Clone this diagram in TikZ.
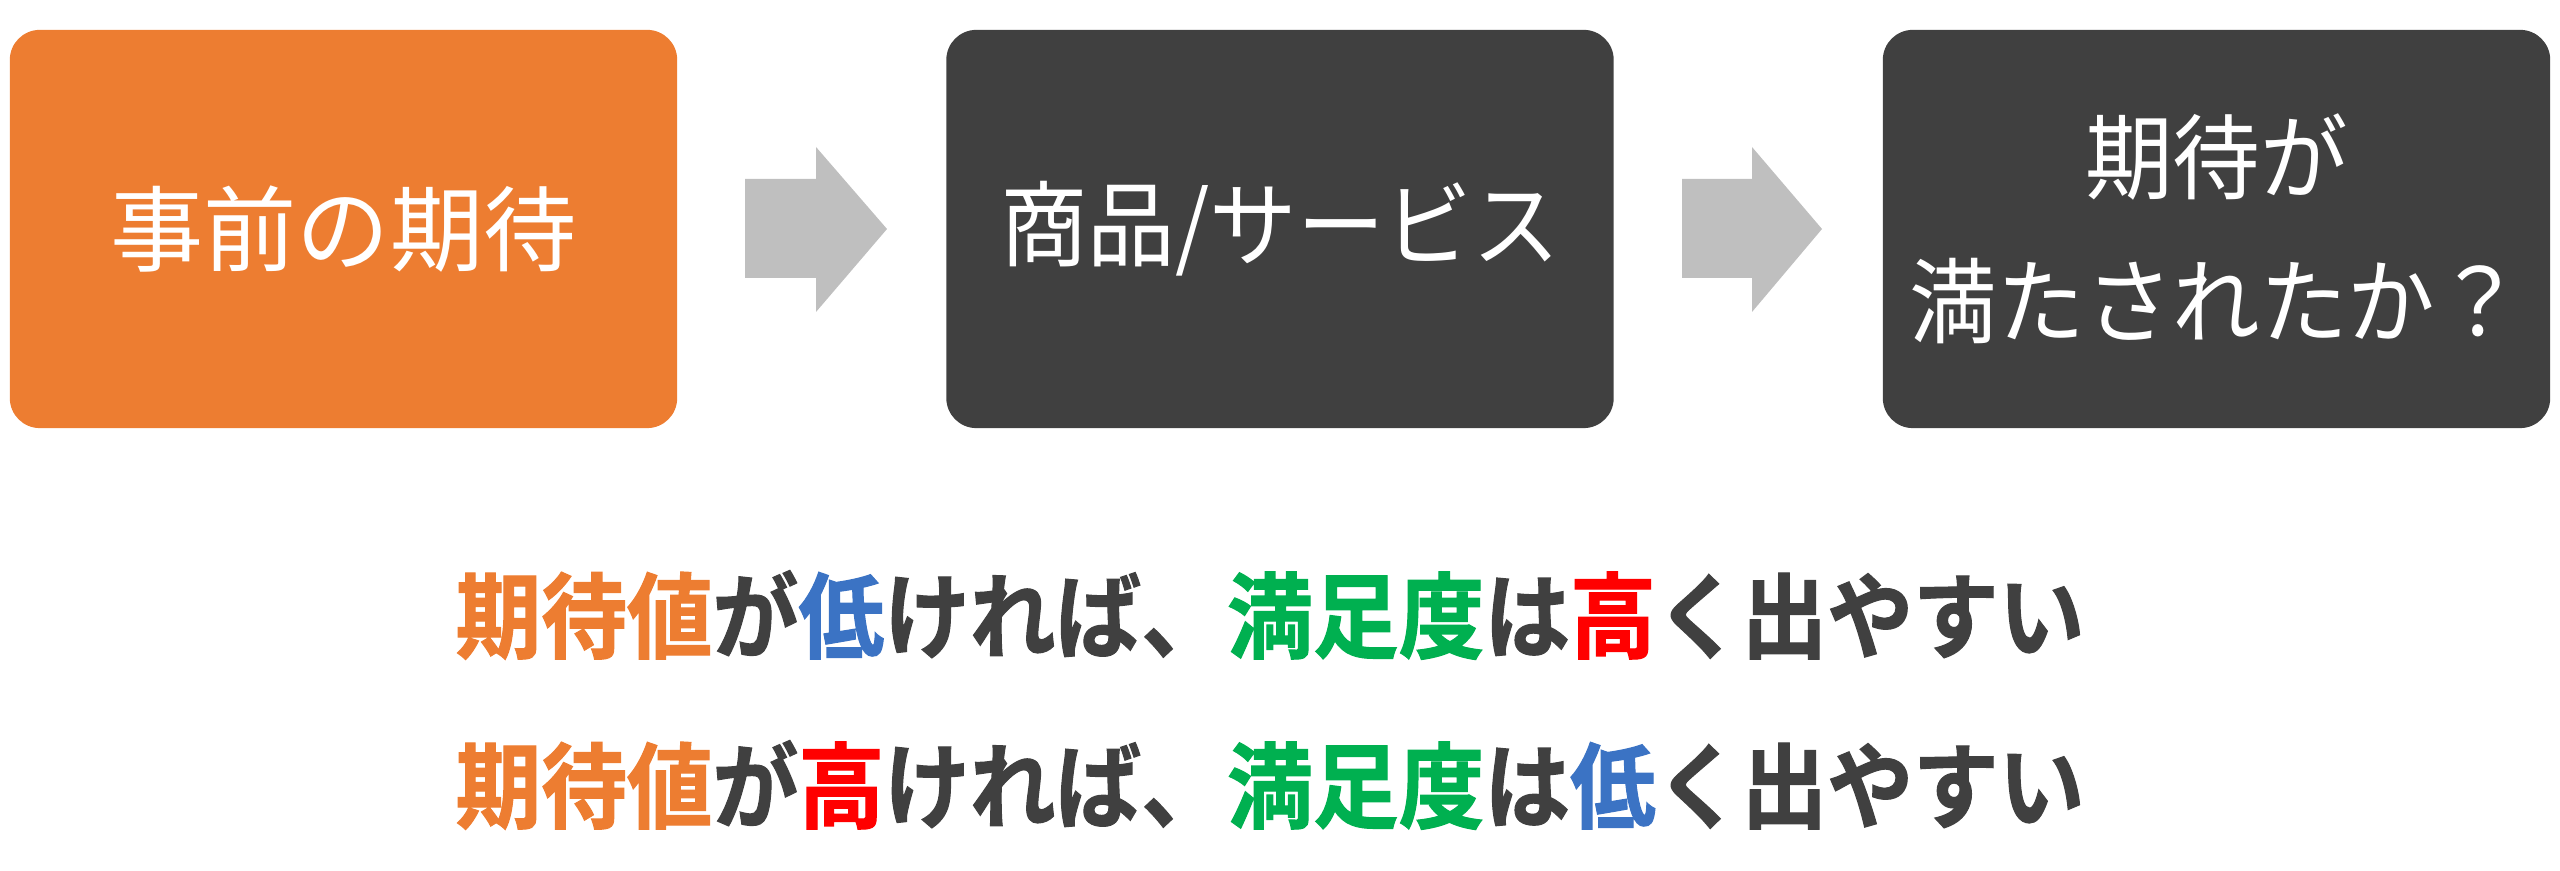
\documentclass[tikz,border=0pt]{standalone}
\usepackage{fontspec}
\newfontfamily\jpreg{Noto Sans CJK JP}
\newfontfamily\jpnarrow[FakeStretch=0.94]{Noto Sans CJK JP}
\newfontfamily\jpbold[FakeStretch=0.92,FakeBold=1.2]{Noto Sans CJK JP Bold}
\definecolor{boxorange}{HTML}{ED7D31}
\definecolor{boxdark}{HTML}{404040}
\definecolor{arrowgray}{HTML}{BFBFBF}
\definecolor{txtblue}{HTML}{3B73C4}
\definecolor{txtred}{HTML}{FF0000}
\definecolor{txtgreen}{HTML}{00B050}
\definecolor{txtdark}{HTML}{404040}
\begin{document}
\begin{tikzpicture}[x=0.01cm,y=-0.01cm,
  stagebox/.style={rounded corners=0.3cm, minimum width=6.67cm, minimum height=3.98cm,
    inner sep=0pt, text=white, align=center, font=\jpreg\fontsize{26.5}{41}\selectfont},
  narrowtext/.style={font=\jpnarrow\fontsize{26.5}{41}\selectfont},
  blockarrow/.style={fill=arrowgray, draw=none},
  msg/.style={inner sep=0pt, text=txtdark, font=\jpbold\fontsize{26.5}{30}\selectfont}]
\useasboundingbox (0,0) rectangle (2560,871);
\node[stagebox, fill=boxorange] (pre) at (343.5,229) {事前の期待};
\node[stagebox, narrowtext, fill=boxdark] (prod) at (1280,229) {商品/サービス};
\node[stagebox, narrowtext, fill=boxdark] (met) at (2216.5,229) {期待が\\満たされたか？};
\fill[blockarrow] (745,179) -- (816,179) -- (816,147) -- (887,229) -- (816,312) -- (816,278) -- (745,278) -- cycle;
\fill[blockarrow] (1682,179) -- (1752,179) -- (1752,147) -- (1822,229) -- (1752,312) -- (1752,278) -- (1682,278) -- cycle;
\node[msg] (line1) at (1270,615) {\textcolor{boxorange}{期待値}が\textcolor{txtblue}{低}ければ、\textcolor{txtgreen}{満足度}は\textcolor{txtred}{高}く出やすい};
\node[msg] (line2) at (1270,785) {\textcolor{boxorange}{期待値}が\textcolor{txtred}{高}ければ、\textcolor{txtgreen}{満足度}は\textcolor{txtblue}{低}く出やすい};
\end{tikzpicture}
\end{document}
